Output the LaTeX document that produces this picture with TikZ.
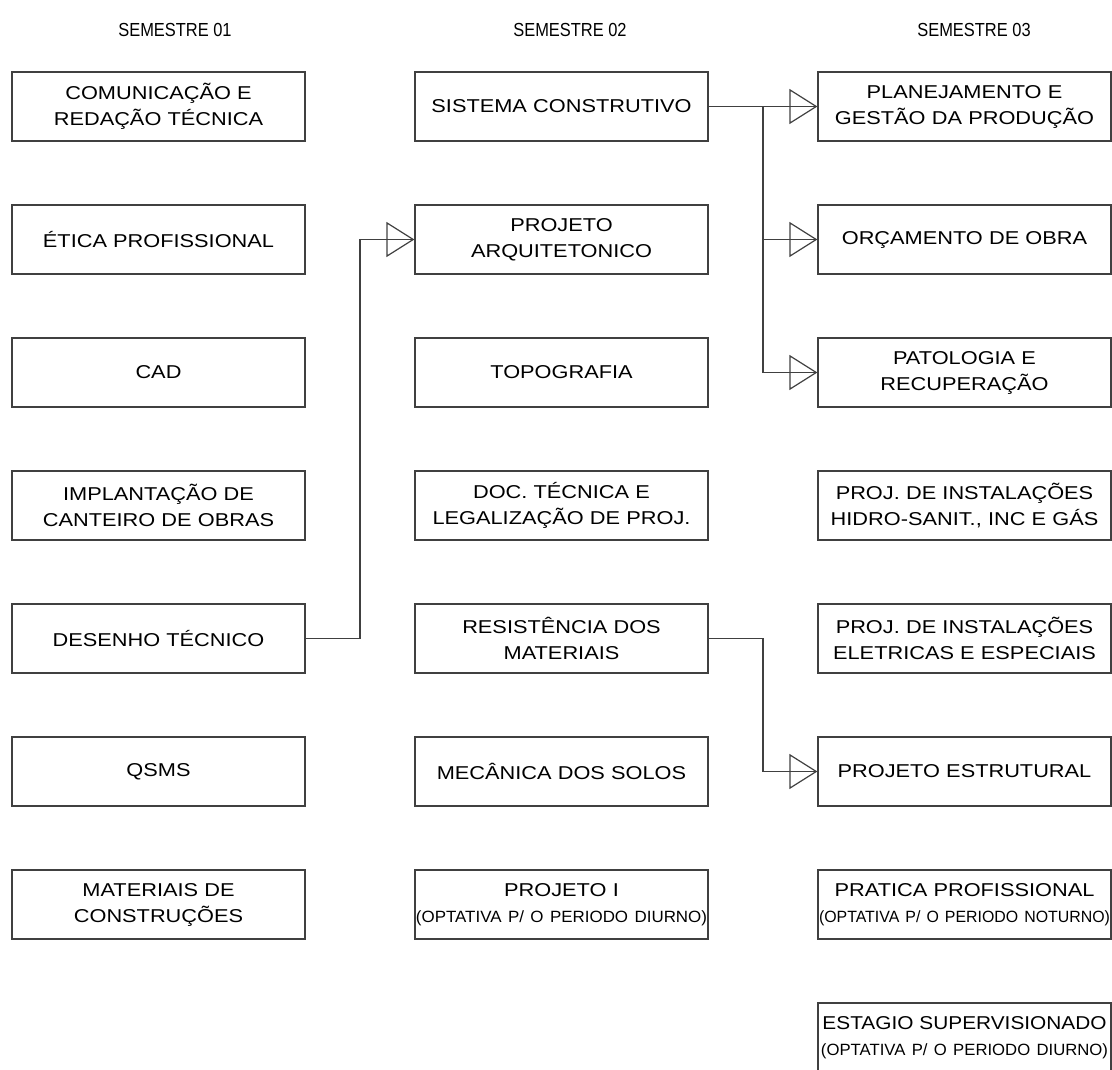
\documentclass[tikz,border=0pt]{standalone}
\usepackage{fontspec}
\setmainfont{Liberation Sans}
\newfontfamily\boxfont{Liberation Sans}[FakeStretch=1.17]
\newfontfamily\headfont{Liberation Sans}[FakeStretch=0.87]
\newfontfamily\optfont{Liberation Sans}
\usetikzlibrary{positioning,arrows.meta}

% one line squeezed to a given width
\newcommand{\fitline}[2]{\resizebox{#1}{\height}{#2}}
\newcommand{\opt}[2]{{\optfont\fontsize{16.3}{22}\selectfont\fitline{#1}{#2}}}

\begin{document}
\begin{tikzpicture}[
    x=1pt, y=-1pt,
    >={Triangle[open,length=28pt,width=35pt]},
    line width=1.2pt
]

\tikzstyle{subject}=[
    draw=black!75,
    minimum width=293pt,
    minimum height=69pt,
    text width=293pt,
    inner sep=0pt,
    align=center,
    font=\boxfont\fontsize{18.6}{26}\selectfont
]
\tikzstyle{semester}=[font=\headfont\fontsize{18.9}{22}\selectfont]
\tikzstyle{link}=[draw=black!75, ->, postaction={draw=black!75, arrows=-}]

\useasboundingbox (0,0) rectangle (1112,1070);

\node[semester] (s1) at (175,30) {SEMESTRE 01};
\node[semester] (s2) at (570,30) {SEMESTRE 02};
\node[semester] (s3) at (974,30) {SEMESTRE 03};

% semestre 01
\node[subject] (com) at (158.5,106.5) {COMUNICAÇÃO E\\REDAÇÃO TÉCNICA};
\node[subject] (eti) at (158.5,239.5) {ÉTICA PROFISSIONAL};
\node[subject] (cad) at (158.5,372.5) {CAD};
\node[subject] (imp) at (158.5,505.5) {IMPLANTAÇÃO DE\\CANTEIRO DE OBRAS};
\node[subject] (des) at (158.5,638.5) {DESENHO TÉCNICO};
\node[subject] (qsm) at (158.5,771.5) {QSMS};
\node[subject] (mat) at (158.5,904.5) {MATERIAIS DE\\CONSTRUÇÕES};

% semestre 02
\node[subject] (sis) at (561.5,106.5) {SISTEMA CONSTRUTIVO};
\node[subject] (arq) at (561.5,239.5) {PROJETO\\ARQUITETONICO};
\node[subject] (top) at (561.5,372.5) {TOPOGRAFIA};
\node[subject] (doc) at (561.5,505.5) {DOC. TÉCNICA E\\LEGALIZAÇÃO DE PROJ.};
\node[subject] (res) at (561.5,638.5) {RESISTÊNCIA DOS\\MATERIAIS};
\node[subject] (mec) at (561.5,771.5) {MECÂNICA DOS SOLOS};
\node[subject] (pj1) at (561.5,904.5) {PROJETO I\\\opt{291pt}{(OPTATIVA P/ O PERIODO DIURNO)}};

% semestre 03
\node[subject] (pla) at (964.5,106.5) {PLANEJAMENTO E\\GESTÃO DA PRODUÇÃO};
\node[subject] (orc) at (964.5,239.5) {ORÇAMENTO DE OBRA};
\node[subject] (pat) at (964.5,372.5) {PATOLOGIA E\\RECUPERAÇÃO};
\node[subject] (hid) at (964.5,505.5) {PROJ. DE INSTALAÇÕES\\HIDRO-SANIT., INC E GÁS};
\node[subject] (ele) at (964.5,638.5) {PROJ. DE INSTALAÇÕES\\ELETRICAS E ESPECIAIS};
\node[subject] (est) at (964.5,771.5) {PROJETO ESTRUTURAL};
\node[subject] (pra) at (964.5,904.5) {PRATICA PROFISSIONAL\\\opt{291pt}{(OPTATIVA P/ O PERIODO NOTURNO)}};
\node[subject] (stg) at (964.5,1037.5) {\fitline{284pt}{ESTAGIO SUPERVISIONADO}\\\opt{287pt}{(OPTATIVA P/ O PERIODO DIURNO)}};

% pre-requisitos
\coordinate (split) at (763,106.5);
\coordinate (bendA) at (360,239.5);
\coordinate (bendB) at (763,771.5);

\draw[link] (sis) -- (pla);
\draw[link] (split) |- (orc);
\draw[link] (split) |- (pat);
\draw[link] (des) -| (bendA) |- (arq);
\draw[link] (res) -| (bendB) |- (est);

\end{tikzpicture}
\end{document}
